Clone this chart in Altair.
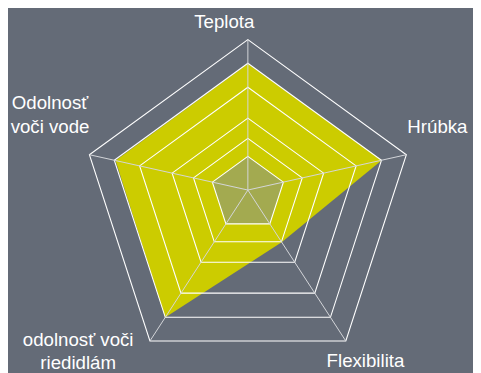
import altair as alt
import numpy as np
import pandas as pd

# ---- data -------------------------------------------------------------
axes = ["Teplota", "Hrúbka", "Flexibilita", "odolnosť voči riedidlám", "Odolnosť voči vode"]
label_lines = [["Teplota"], ["Hrúbka"], ["Flexibilita"],
               ["odolnosť voči", "riedidlám"], ["Odolnosť", "voči vode"]]
values = [84, 84.5, 34.5, 84.5, 83.5]          # yellow series
inner_values = [22.4, 22.4, 22.4, 22.4, 22.4]  # inner (olive) series
rings = [22.4, 34.3, 47.8, 68.3, 84.3, 100]    # grid levels
scale_max = 100

# ---- geometry helpers -------------------------------------------------
SHIFT = 0.097          # centre of the spokes sits slightly above the pentagon centroid
PX = 169.5             # pixels per full radius
MARGIN = 8             # page margin
W, H = 481 - MARGIN, 373 - MARGIN
OX, OY = 252 - MARGIN, 190 - MARGIN   # spoke origin inside the chart
BG = "#646b77"


def pos(k, v):
    th = 2 * np.pi * k / len(axes)
    r = v / scale_max
    return r * np.sin(th), r * (np.cos(th) - SHIFT)


def polygon(vals, name):
    rows = []
    for k, v in enumerate(vals):
        x, y = pos(k, v)
        rows.append({"x": x, "y": y, "k": k, "g": name})
    return rows


series_df = pd.DataFrame(polygon(values, "main"))
inner_df = pd.DataFrame(polygon(inner_values, "inner"))
ring_rows = []
for i, lv in enumerate(rings):
    ring_rows += polygon([lv] * len(axes), f"r{i}")
ring_df = pd.DataFrame(ring_rows)

spoke_df = pd.DataFrame([
    {"x": 0.0, "y": 0.0, "x2": pos(k, scale_max)[0], "y2": pos(k, scale_max)[1]}
    for k in range(len(axes))
])

xs = alt.Scale(domain=[-OX / PX, (W - OX) / PX], nice=False, zero=False)
ys = alt.Scale(domain=[-(H - OY) / PX, OY / PX], nice=False, zero=False)
X = alt.X("x:Q", scale=xs, axis=None)
Y = alt.Y("y:Q", scale=ys, axis=None)

fill_layer = alt.Chart(series_df).mark_line(
    interpolate="linear-closed", fill="#cccc00", stroke="#cccc00", strokeWidth=0
).encode(x=X, y=Y, order="k:O")

inner_layer = alt.Chart(inner_df).mark_line(
    interpolate="linear-closed", fill="#a3aa50", stroke="#a3aa50", strokeWidth=0
).encode(x=X, y=Y, order="k:O")

ring_layer = alt.Chart(ring_df).mark_line(
    interpolate="linear-closed", color="white", strokeWidth=1.1
).encode(x=X, y=Y, order="k:O", detail="g:N")

spoke_layer = alt.Chart(spoke_df).mark_rule(color="#d4d6da", strokeWidth=1).encode(
    x=X, y=Y, x2="x2:Q", y2="y2:Q"
)

# label placement styles (pixel offsets from each outer vertex)
label_style = [
    dict(align="center", dx=-24, dy=-12),
    dict(align="left", dx=1, dy=-22),
    dict(align="center", dx=20, dy=26),
    dict(align="center", dx=-73, dy=5),
    dict(align="center", dx=-40, dy=-46),
]

label_layers = []
for k, (lines, st) in enumerate(zip(label_lines, label_style)):
    lx, ly = pos(k, scale_max)
    df = pd.DataFrame([{"x": lx, "y": ly}])
    label_layers.append(
        alt.Chart(df).mark_text(
            text=lines if len(lines) > 1 else lines[0],
            font="Liberation Sans", fontSize=19, color="white",
            baseline="alphabetic", lineHeight=23.5, **st
        ).encode(x=X, y=Y)
    )

chart = alt.layer(fill_layer, inner_layer, ring_layer, spoke_layer, *label_layers).properties(
    width=W, height=H, padding=0, background=BG,
).configure_view(stroke=None)

chart.save("out.html", embed_options={"renderer": "svg", "actions": False})
